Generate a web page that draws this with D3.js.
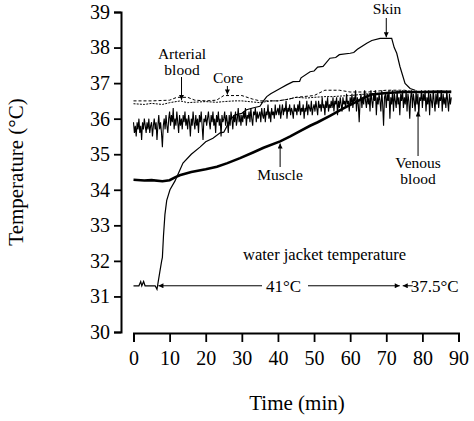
<!DOCTYPE html>
<html><head><meta charset="utf-8">
<script src="https://cdn.jsdelivr.net/npm/d3@7"></script>
<style>
html,body{margin:0;padding:0;background:#fff;}
svg{display:block;font-family:"Liberation Serif","Times New Roman",serif;}
</style></head>
<body><svg id="c" width="474" height="421"></svg>
<script>
// ---- data ----
const xTicks = [0,10,20,30,40,50,60,70,80,90];
const yTicks = [30,31,32,33,34,35,36,37,38,39];
const skinT = [0,1.5,2,2.3,2.8,3.2,6,6.5,7.3,7.8,8.0,8.3,8.7,9.2,10.1,11.5,13.7,16,18.4,20,22,24,25,26.7,28,30,31.3,33,35,36,36.9,38,40.6,42.4,44.2,46,46.4,48.9,50,51,52.5,54.4,56,57,60,61,62,64.6,66,68.3,71.5,72.2,72.9,73.8,75.2,76.6,78];
const skinV = [31.3,31.3,31.42,31.3,31.42,31.3,31.3,31.2,31.7,32.0,32.1,32.7,33.3,33.7,34.0,34.25,34.75,35.0,35.2,35.35,35.45,35.6,35.62,35.95,36.1,36.15,36.25,36.3,36.35,36.5,36.62,36.7,36.85,36.95,37.04,37.05,37.15,37.32,37.34,37.45,37.47,37.7,37.72,37.8,37.84,37.86,37.95,38.12,38.2,38.26,38.26,38.0,37.84,37.46,36.99,36.85,36.8];
const muscleT = [0,3,5,8,10,11.5,12.8,16,20,23.1,26,29.5,33.1,36,40.6,43.4,46.1,48.9,51,54.4,58,61.8,64,66,70,75,80,85,88];
const muscleV = [34.28,34.26,34.27,34.24,34.27,34.35,34.41,34.5,34.58,34.65,34.75,34.89,35.05,35.18,35.36,35.5,35.65,35.8,35.9,36.08,36.28,36.48,36.6,36.68,36.72,36.75,36.75,36.76,36.75];
const arterialT = [0,3,5,8,10,13,15,18,20,23,25,28,30,33,35,38,40,43,45,48,50,53,55,58,60,63,65,70,75,80,85,88];
const arterialV = [36.42,36.4,36.43,36.4,36.45,36.5,36.45,36.47,36.48,36.46,36.48,36.5,36.5,36.47,36.45,36.5,36.5,36.55,36.6,36.58,36.6,36.62,36.62,36.64,36.65,36.68,36.7,36.72,36.75,36.75,36.74,36.75];
const coreT = [0,5,10,12,15,17,20,23,25,30,33,35,40,43,45,50,53,57,60,65,70,75,78,85,88];
const coreV = [36.5,36.5,36.52,36.6,36.6,36.52,36.5,36.52,36.65,36.65,36.55,36.5,36.5,36.55,36.6,36.65,36.8,36.8,36.75,36.75,36.8,36.8,36.75,36.75,36.78];
const venousStep = 0.25; // minutes between venous samples
const venousV = [
35.9,35.6,35.8,35.5,35.9,35.7,36.0,35.6,35.8,35.4,35.9,35.7,36.0,35.8,35.6,35.9,35.7,36.0,35.6,35.8,
35.9,35.5,35.8,36.0,35.7,35.9,35.4,35.8,36.1,35.7,35.9,35.6,35.2,35.8,36.0,35.7,36.1,35.8,35.6,36.0,
36.2,35.8,36.1,35.9,36.3,35.7,36.0,35.8,36.2,35.9,35.6,36.1,35.8,36.0,35.7,36.1,35.9,36.2,35.8,36.0,
35.7,36.1,35.9,35.5,36.0,35.8,36.2,35.9,35.7,36.1,35.8,36.0,35.6,36.1,35.9,36.2,35.8,35.4,36.0,35.9,
36.1,35.8,36.0,36.2,35.9,35.7,36.1,35.9,36.2,35.8,36.0,35.6,36.1,35.9,36.2,35.8,36.0,35.5,36.1,35.9,
36.0,36.2,35.8,36.1,35.9,35.6,36.1,35.8,36.2,36.0,35.7,36.1,35.9,36.2,35.8,36.0,36.3,35.9,36.1,35.8,
36.1,35.9,36.2,36.0,36.3,35.8,36.1,36.0,36.2,35.9,36.3,36.0,35.8,36.2,36.1,36.3,35.9,36.2,36.0,36.1,
36.2,35.9,36.3,36.1,36.0,36.3,35.9,36.2,36.1,36.4,36.0,36.2,35.9,36.3,36.1,36.2,36.0,36.4,36.1,36.2,
36.3,36.1,36.4,36.0,36.2,36.4,36.1,36.3,36.2,36.5,36.0,36.3,36.2,36.4,36.1,36.3,36.2,36.0,36.4,36.2,
36.3,36.1,36.4,36.2,36.5,36.1,36.3,36.2,36.4,36.0,36.3,36.2,36.5,36.1,36.4,36.3,36.2,36.5,36.1,36.3,
36.4,36.2,36.5,36.3,36.1,36.5,36.3,36.4,36.2,36.6,36.3,36.4,36.1,36.5,36.3,36.6,36.2,36.4,36.3,36.5,
36.3,36.6,36.2,36.5,36.4,36.6,36.1,36.5,36.3,36.6,36.4,36.2,36.6,36.4,36.5,36.3,36.7,36.4,36.5,36.2,
36.6,36.4,36.7,36.3,36.6,36.5,36.8,36.2,36.6,36.4,35.9,36.5,36.7,36.3,36.6,36.4,36.8,36.5,36.3,36.7,
36.4,36.6,36.2,36.8,36.5,36.3,36.7,36.5,36.8,36.1,36.6,36.4,36.7,36.5,36.2,36.8,36.4,35.8,36.6,36.7,
36.3,36.7,36.5,36.8,36.0,36.6,36.4,36.8,36.2,36.7,36.5,36.3,36.8,36.4,36.6,36.1,36.7,36.5,36.8,36.3,
36.6,36.4,36.8,36.2,36.7,36.5,36.0,36.6,36.8,36.3,36.7,36.5,36.2,36.8,36.4,36.7,36.1,36.6,36.5,36.8,
36.3,36.7,36.5,36.8,36.2,36.6,36.4,36.8,36.1,36.7,36.5,36.3,36.8,36.5,36.2,36.7,36.4,36.8,36.3,36.6,
36.5,36.8,36.2,36.7,36.4,36.6,36.3,36.8,36.5,36.2,36.7,36.4,36.6];
const jacketT = [0,74];       // water jacket: 41°C until ~74 min, then 37.5°C
const jacketLabels = ["41°C","37.5°C"];

// ---- chart ----
const svg = d3.select("#c");
const x = d3.scaleLinear().domain([0,90]).range([133.5,458.5]);
const y = d3.scaleLinear().domain([30,39]).range([332,12]);
const ink = "#000";

const defs = svg.append("defs");
defs.append("marker").attr("id","ah").attr("viewBox","0 0 10 10").attr("refX",10).attr("refY",5)
  .attr("markerWidth",7).attr("markerHeight",5).attr("orient","auto-start-reverse").attr("markerUnits","userSpaceOnUse")
  .append("path").attr("d","M0,0L10,5L0,10z").attr("fill",ink);

// axes
const yAxis = d3.axisLeft(y).tickValues(yTicks).tickSize(7).tickSizeOuter(7).tickPadding(4).tickFormat(d3.format("d"));
const gy = svg.append("g").attr("transform","translate(121,0)").call(yAxis);
const xAxis = d3.axisBottom(x).tickValues(xTicks).tickSize(9).tickSizeOuter(9).tickPadding(9).tickFormat(d3.format("d"));
const gx = svg.append("g").attr("transform","translate(0,333)").call(xAxis);
[gx,gy].forEach(g=>{
  g.select(".domain").attr("stroke",ink).attr("stroke-width",2);
  g.selectAll(".tick line").attr("stroke",ink).attr("stroke-width",1.8);
  g.selectAll(".tick text").attr("fill",ink).style("font-size","20px").style("font-family",'"Liberation Serif",serif');
});

svg.append("text").attr("transform","translate(23,172) rotate(-90)").attr("text-anchor","middle")
  .style("font-size","21px").text("Temperature (°C)");
svg.append("text").attr("x",297).attr("y",410).attr("text-anchor","middle")
  .style("font-size","21px").text("Time (min)");

const line = d3.line().x(d=>x(d[0])).y(d=>y(d[1]));
const zip = (a,b)=>a.map((t,i)=>[t,b[i]]);

// venous
svg.append("path").datum(venousV.map((v,i)=>[i*venousStep,v])).attr("d",line)
  .attr("fill","none").attr("stroke",ink).attr("stroke-width",1.1).attr("stroke-linejoin","miter");
// arterial (dotted)
svg.append("path").datum(zip(arterialT,arterialV)).attr("d",line)
  .attr("fill","none").attr("stroke",ink).attr("stroke-width",1).attr("stroke-dasharray","2,1.2");
// core (dashed)
svg.append("path").datum(zip(coreT,coreV)).attr("d",line)
  .attr("fill","none").attr("stroke",ink).attr("stroke-width",1).attr("stroke-dasharray","3,2");
// muscle
svg.append("path").datum(zip(muscleT,muscleV)).attr("d",line)
  .attr("fill","none").attr("stroke",ink).attr("stroke-width",2.6);
// skin
svg.append("path").datum(zip(skinT,skinV)).attr("d",line)
  .attr("fill","none").attr("stroke",ink).attr("stroke-width",1.2);

// labels with arrows
function lab(lines, cx, by, fs){
  lines.forEach((s,i)=>svg.append("text").attr("x",cx).attr("y",by+i*fs*1.05).attr("text-anchor","middle")
    .style("font-size",fs+"px").text(s));
}
function arrow(x1,y1,x2,y2){
  svg.append("line").attr("x1",x1).attr("y1",y1).attr("x2",x2).attr("y2",y2)
    .attr("stroke",ink).attr("stroke-width",1).attr("marker-end","url(#ah)");
}
lab(["Arterial","blood"],182,59,15.5);
arrow(x(13.3),77,x(13.3),y(36.5)-1);
lab(["Core"],228,83,15.5);
arrow(x(26),86,x(26),y(36.65)-1);
lab(["Skin"],387,14,15.5);
arrow(x(70),18,x(70),y(38.26)-1);
lab(["Muscle"],280,180,15.5);
arrow(x(40.6),167,x(40.6),y(35.36)+2);
lab(["Venous","blood"],418,168,15.5);
arrow(x(78.8),156,x(78.8),y(36.2));

// water jacket annotation
svg.append("text").attr("x",243).attr("y",260).style("font-size","16.5px").text("water jacket temperature");
const jy = y(31.3);
arrow(262, jy, x(6.9), jy);
svg.append("text").attr("x",266).attr("y",jy+6).style("font-size","17px").text(jacketLabels[0]);
arrow(308, jy, x(jacketT[1])-1, jy);
arrow(x(jacketT[1])+12, jy, x(jacketT[1])+2, jy);
svg.append("text").attr("x",x(jacketT[1])+10).attr("y",jy+6).style("font-size","17px").text(jacketLabels[1]);
</script></body></html>
